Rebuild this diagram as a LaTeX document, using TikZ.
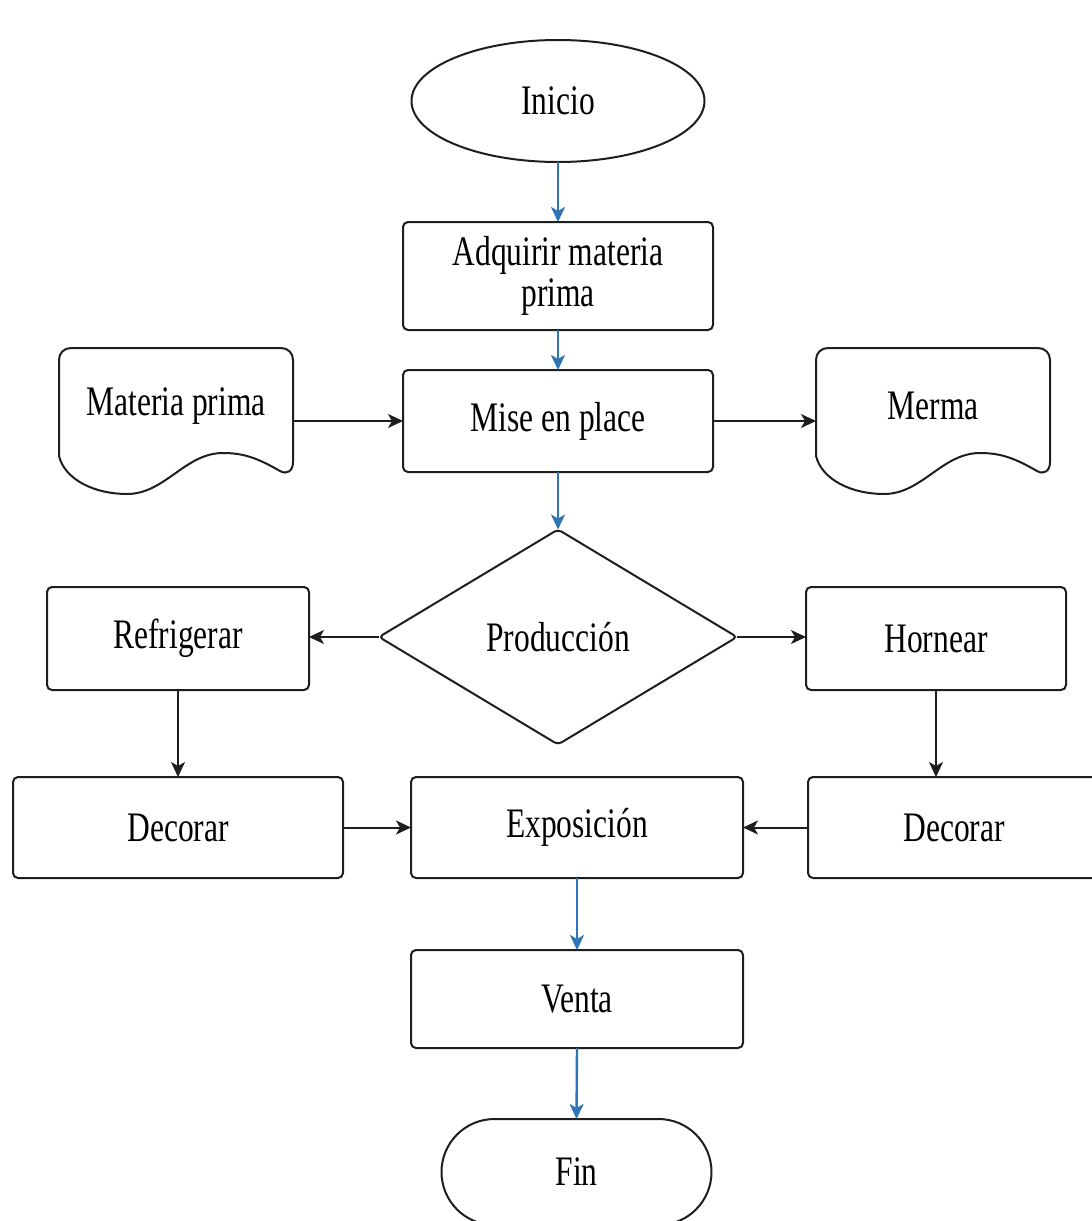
\documentclass[tikz,border=0pt]{standalone}
\usepackage{fontspec}
\setmainfont{Liberation Serif}
\usetikzlibrary{shapes.geometric,arrows.meta}

\definecolor{flowblue}{RGB}{46,117,182}
\definecolor{edge}{RGB}{30,30,30}

% narrow-set label text
\newcommand{\nt}[1]{\scalebox{0.75}[1]{#1}}

\tikzset{
  base/.style={draw=edge, line width=2pt, inner sep=0pt, outer sep=0pt,
    font=\rmfamily\fontsize{42}{44}\selectfont, text=black, align=center},
  procbox/.style={base, rectangle, rounded corners=5pt},
  termshape/.style={base, ellipse},
  pillshape/.style={base, rectangle, rounded corners=53pt},
  decision/.style={base, diamond, rounded corners=4pt},
  doclabel/.style={inner sep=0pt, outer sep=0pt, minimum width=234pt,
    font=\rmfamily\fontsize{42}{44}\selectfont},
  docline/.style={draw=edge, line width=2pt},
  blackarrow/.style={draw=edge, line width=2pt,
    -{Stealth[length=15pt, width=14pt, inset=4pt]}},
  bluearrow/.style={draw=flowblue, line width=2.4pt,
    -{Stealth[length=15pt, width=14pt, inset=4pt]}},
}

% wavy-bottomed document symbol, left edge at x = #1
\newcommand{\documentsymbol}[1]{%
  \begin{scope}[xshift=#1pt]
    \draw[docline] (0,456) -- (0,360) .. controls (0,353) and (5,348) .. (12,348)
      -- (222,348) .. controls (229,348) and (234,353) .. (234,360)
      -- (234,462) .. controls (234,471) and (228,475) .. (221,471)
      .. controls (200,459) and (186,453) .. (164,453)
      .. controls (126,453) and (106,494) .. (68,494)
      .. controls (36,494) and (6,480) .. (0,456) -- cycle;
  \end{scope}}

\begin{document}
\begin{tikzpicture}[x=1pt, y=-1pt]
  \useasboundingbox (0,0) rectangle (1092,1221);

  % shapes
  \node[termshape, minimum width=293pt, minimum height=122pt] (ini) at (558,101) {\nt{Inicio}};
  \node[procbox, minimum width=310pt, minimum height=108pt] (adq) at (558,276)
    {\nt{Adquirir materia}\\[-3pt]\nt{prima}};
  \node[procbox, minimum width=310pt, minimum height=102pt] (mise) at (558,421) {\nt{Mise en place}};

  \documentsymbol{59}
  \node[doclabel] (mp) at (176,406) {\nt{Materia prima}};
  \documentsymbol{816}
  \node[doclabel] (merma) at (933,406) {\nt{Merma}};

  \node[decision, minimum width=358pt, minimum height=215pt] (prod) at (558,637) {\nt{Producción}};
  \node[procbox, minimum width=262pt, minimum height=103pt] (refr) at (178,638.5) {\nt{Refrigerar}};
  \node[procbox, minimum width=260pt, minimum height=103pt] (horn) at (936,638.5) {\nt{Hornear}};

  \node[procbox, minimum width=330pt, minimum height=101pt] (decl) at (178,827.5) {\nt{Decorar}};
  \node[procbox, minimum width=332pt, minimum height=101pt] (expo) at (577,827.5) {\nt{Exposición}};
  \node[procbox, minimum width=292pt, minimum height=101pt] (decr) at (954,827.5) {\nt{Decorar}};

  \node[procbox, minimum width=332pt, minimum height=98pt] (venta) at (577,999) {\nt{Venta}};
  \node[pillshape, minimum width=270pt, minimum height=106pt] (fin) at (576.5,1172) {\nt{Fin}};

  % connectors
  \draw[bluearrow] (ini.south) -- (adq.north);
  \draw[bluearrow] (adq.south) -- (mise.north);
  \draw[blackarrow] (mise.west -| mp.east) -- (mise.west);
  \draw[blackarrow] (mise.east) -- (mise.east -| merma.west);
  \draw[bluearrow] (mise.south) -- (prod.north);
  \draw[blackarrow] (prod.west) -- (prod.west -| refr.east);
  \draw[blackarrow] (prod.east) -- (prod.east -| horn.west);
  \draw[blackarrow] (refr.south) -- (decl.north);
  \draw[blackarrow] (horn.south) -- (horn.south |- decr.north);
  \draw[blackarrow] (decl.east) -- (expo.west);
  \draw[blackarrow] (decr.west) -- (expo.east);
  \draw[bluearrow] (expo.south) -- (venta.north);
  \draw[bluearrow] (venta.south) -- (fin.north);
\end{tikzpicture}
\end{document}
